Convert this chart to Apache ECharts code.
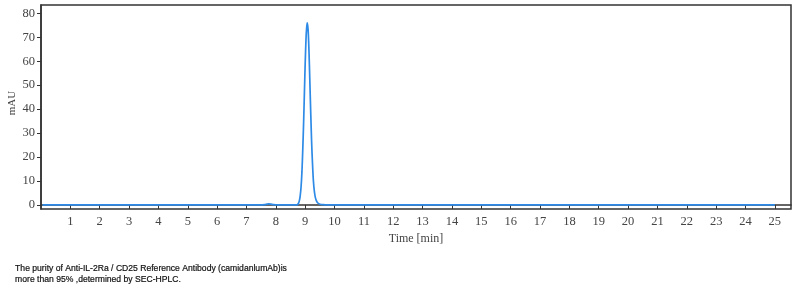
<!DOCTYPE html>
<html><head><meta charset="utf-8">
<script src="https://cdn.jsdelivr.net/npm/echarts@6/dist/echarts.min.js"></script>
<style>html,body{margin:0;padding:0;background:#fff}#c{width:807px;height:293px}</style>
</head><body><div id="c"></div>
<script>
// Chromatogram data (time in min, signal in mAU)
const times = [0.05, 7.5, 7.62, 7.7, 7.76, 7.83, 7.92, 8.05, 8.7, 8.74, 8.77, 8.80, 8.83, 8.86, 8.89, 8.92, 8.95, 8.98, 9.00, 9.03, 9.05, 9.07, 9.10, 9.13, 9.16, 9.19, 9.22, 9.25, 9.28, 9.31, 9.34, 9.38, 9.43, 9.50, 9.60, 9.80, 25.0];
const signal = [0, 0, 0.15, 0.35, 0.45, 0.35, 0.15, 0, 0, 0.2, 0.6, 1.7, 3.8, 7.6, 14, 24, 36, 50, 59, 70, 74, 76, 73, 64, 51, 38, 26, 17, 10, 6, 3.5, 1.8, 0.8, 0.3, 0.1, 0, 0];
const xTicks = [1,2,3,4,5,6,7,8,9,10,11,12,13,14,15,16,17,18,19,20,21,22,23,24,25];
const yTicks = [0,10,20,30,40,50,60,70,80];
const yName = 'mAU';
const caption = ['The purity of Anti-IL-2Ra / CD25 Reference Antibody (camidanlumAb)is', 'more than 95% ,determined by SEC-HPLC.'];

const chart = echarts.init(document.getElementById('c'));
const serif = '"Liberation Serif", "DejaVu Serif", serif';
chart.setOption({
  animation: false,
  grid: {left: 41, right: 16, top: 5, bottom: 84, containLabel: false, outerBoundsMode: 'none', show: true, borderColor: '#333', borderWidth: 1.5, backgroundColor: '#fff'},
  xAxis: {
    type: 'value', min: 0, max: 25.55,
    name: 'Time [min]', nameLocation: 'middle', nameGap: 23,
    nameTextStyle: {fontFamily: serif, fontSize: 12, color: '#444'},
    axisLine: {show: true, lineStyle: {color: '#333', width: 1.5}},
    axisTick: {show: true, inside: false, length: 4, customValues: xTicks, lineStyle: {color: '#333'}},
    axisLabel: {customValues: xTicks, fontFamily: serif, fontSize: 12.5, color: '#444', margin: 6},
    splitLine: {show: false}
  },
  yAxis: {
    type: 'value', min: -1.7, max: 83.5,
    axisLine: {show: true, lineStyle: {color: '#333', width: 1.5}},
    axisTick: {show: true, length: 4, customValues: yTicks, lineStyle: {color: '#333'}},
    axisLabel: {customValues: yTicks, fontFamily: serif, fontSize: 12.5, color: '#444', margin: 6},
    splitLine: {show: false}
  },
  series: [{
    type: 'line', showSymbol: false, smooth: 0.3,
    data: times.map((t, i) => [t, signal[i]]),
    lineStyle: {color: '#2d8ae6', width: 1.7},
    itemStyle: {color: '#2d8ae6'}
  }],
  graphic: [{
    type: 'text', x: 12, y: 103, rotation: Math.PI / 2,
    style: {text: yName, fontFamily: serif, fontSize: 11, fill: '#444', align: 'center', verticalAlign: 'middle'}
  }, {
    type: 'text', left: 15, top: 263,
    style: {text: caption.join('\n'), fontFamily: '"Liberation Sans", Arial, sans-serif', fontSize: 8.6, lineHeight: 11, fill: '#111', stroke: '#111', lineWidth: 0.2}
  }]
});
</script></body></html>
